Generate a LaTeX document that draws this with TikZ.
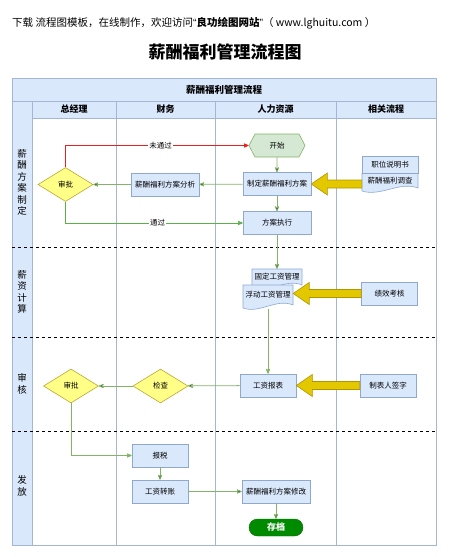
\documentclass[tikz,border=0pt]{standalone}
\usepackage{fontspec}
\setmainfont{Noto Sans CJK SC}
\newfontfamily\latinfont{Liberation Sans}
\usepackage{xcolor}
\usepackage{tikz}
\usetikzlibrary{arrows,arrows.meta,calc,shapes.geometric,shapes.symbols}

\definecolor{boxfill}{HTML}{DAE8FC}
\definecolor{boxline}{HTML}{8FA8D0}
\definecolor{gridline}{HTML}{A3B6D6}
\definecolor{linkgreen}{HTML}{82B366}
\definecolor{okgreen}{HTML}{5CB048}
\definecolor{nogood}{HTML}{E82020}
\definecolor{startfill}{HTML}{D5E8D4}
\definecolor{decfill}{HTML}{FFFF88}
\definecolor{decline}{HTML}{B8A830}
\definecolor{fatfill}{HTML}{E3C800}
\definecolor{fatline}{HTML}{B09500}
\definecolor{savegreen}{HTML}{008A00}

% document page with a wavy foot: centre x, centre y, width, height
\newcommand\docpage[4]{%
  \filldraw[draw=boxline,fill=boxfill,line width=0.6pt]
    (#1-#3/2,#2-#4/2) -- (#1+#3/2,#2-#4/2) -- (#1+#3/2,#2+#4/2)
    .. controls (#1+#3/6,#2+#4/2-7) and (#1-#3/6,#2+#4/2+9) .. (#1-#3/2,#2+#4/2+3) -- cycle;}

% big yellow arrow: from, to
\newcommand\bigarrow[2]{%
  \filldraw[draw=fatline,fill=fatfill,line width=0.6pt] let \p1=(#2), \p2=(#1) in
    (\p1) -- (\x1+16pt,\y1+11pt) -- (\x1+16pt,\y1+4pt) -- (\x2,\y1+4pt)
    -- (\x2,\y1-4pt) -- (\x1+16pt,\y1-4pt) -- (\x1+16pt,\y1-11pt) -- cycle;}

\begin{document}
\begin{tikzpicture}[x=1pt,y=-1pt,>=stealth',
    box text/.style={font=\fontsize{7.5}{9}\selectfont,inner sep=0pt},
    proc node/.style={box text,rectangle,draw=boxline,fill=boxfill,line width=0.6pt,minimum width=56pt,minimum height=23pt},
    wide node/.style={proc node,minimum width=68pt},
    doc node/.style={box text,rectangle,minimum width=50pt,minimum height=16pt},
    dec node/.style={box text,diamond,aspect=1.6,draw=decline,fill=decfill,line width=0.6pt,minimum width=55pt,minimum height=34pt},
    start node/.style={box text,signal,signal to=east and west,signal pointer angle=125,draw=linkgreen,fill=startfill,line width=0.6pt,minimum width=56pt,minimum height=23pt},
    end node/.style={font=\bfseries\fontsize{9}{11}\selectfont,text=white,fill=savegreen,draw=savegreen!80!black,rounded corners=8.5pt,minimum width=54pt,minimum height=17pt,inner sep=0pt},
    head text/.style={font=\bfseries\fontsize{9}{11}\selectfont,inner sep=0pt},
    lane text/.style={font=\fontsize{9.5}{11.5}\selectfont,align=center,inner sep=0pt},
    edge text/.style={font=\fontsize{7.5}{9}\selectfont,text=black,fill=white,inner sep=1pt},
    flow/.style={->,draw=linkgreen,line width=0.8pt}]

  \useasboundingbox (0,0) rectangle (450,557);

  % heading lines
  \node[anchor=west,font=\fontsize{10.5}{12}\selectfont,inner sep=0pt] (note) at (12,23)
    {下载 流程图模板，在线制作，欢迎访问{\latinfont “}\textbf{良功绘图网站}{\latinfont ”}（ www.lghuitu.com ）};
  \node[font=\bfseries\fontsize{17}{20}\selectfont] (title) at (225,52) {薪酬福利管理流程图};

  % swimlane frame
  \filldraw[fill=boxfill,draw=gridline,line width=0.6pt] (12,78) rectangle (436,101);
  \filldraw[fill=boxfill,draw=gridline,line width=0.6pt] (32,101) rectangle (436,118);
  \filldraw[fill=boxfill,draw=gridline,line width=0.6pt] (12,101) rectangle (32,545);
  \draw[gridline,line width=0.6pt] (12,78) rectangle (436,545);
  \foreach \x in {116,215,336}
    \draw[gridline,line width=0.6pt] (\x,101) -- (\x,545);
  \foreach \y in {247,337,431}
    \draw[dashed,line width=0.7pt] (12,\y) -- (436,\y);

  \node[head text,font=\bfseries\fontsize{9.5}{11}\selectfont] (band) at (224,89.5) {薪酬福利管理流程};
  \node[head text] (col1) at (74,109.5) {总经理};
  \node[head text] (col2) at (165.5,109.5) {财务};
  \node[head text] (col3) at (275.5,109.5) {人力资源};
  \node[head text] (col4) at (386,109.5) {相关流程};

  \node[lane text] (lane1) at (22,182.5) {薪\\酬\\方\\案\\制\\定};
  \node[lane text] (lane2) at (22,292) {薪\\资\\计\\算};
  \node[lane text] (lane3) at (22,384) {审\\核};
  \node[lane text] (lane4) at (22,486) {发\\放};

  % lane 1
  \node[start node] (start) at (277,145.5) {开始};
  \node[wide node] (plan) at (277,184) {制定薪酬福利方案};
  \node[wide node] (exec) at (277,223) {方案执行};
  \node[wide node] (ana) at (165,184.5) {薪酬福利方案分析};
  \node[dec node] (audit1) at (65.5,184.5) {审批};
  \docpage{390}{180.5}{56}{15}
  \node[doc node,minimum width=56pt,minimum height=15pt] (survey) at (390,180.5) {薪酬福利调查};
  \node[proc node,minimum height=17pt] (post) at (390,164.5) {职位说明书};

  % lane 2
  \docpage{277}{277}{50}{16}
  \node[doc node] (fix) at (277,277) {固定工资管理};
  \docpage{268}{295}{50}{20}
  \node[doc node,minimum height=20pt] (float) at (268,295) {浮动工资管理};
  \node[proc node] (perf) at (389.5,293.5) {绩效考核};

  % lane 3
  \node[proc node] (report) at (268,385.5) {工资报表};
  \node[proc node] (sign) at (388,385.5) {制表人签字};
  \node[dec node] (check) at (160.5,386) {检查};
  \node[dec node] (audit2) at (71,386) {审批};

  % lane 4
  \node[proc node] (tax) at (160,455.5) {报税};
  \node[proc node] (transfer) at (160,491.5) {工资转账};
  \node[wide node] (revise) at (276,491.5) {薪酬福利方案修改};
  \node[end node] (save) at (276,527.5) {存档};

  % connectors
  \path[flow]
    (start) edge (plan)
    (plan) edge (exec)
    (plan) edge (ana)
    (ana) edge (audit1)
    (exec) edge (fix)
    (report) edge (check)
    (check) edge (audit2)
    (tax) edge (transfer)
    (transfer) edge (revise)
    (revise) edge (save);
  \draw[flow,shorten <=4pt] (float.south) -- (report.north);
  \draw[flow] (audit2.south) |- (tax.west);
  \draw[->,nogood,line width=0.8pt] (audit1.north) |- node[edge text,pos=0.76] {未通过} (start.west);
  \draw[->,okgreen,line width=0.8pt] (audit1.south) |- node[edge text,pos=0.76] {通过} (exec.west);

  \bigarrow{plan.east -| survey.west}{plan.east}
  \bigarrow{perf.west}{perf.west -| float.east}
  \bigarrow{sign.west}{report.east}
\end{tikzpicture}
\end{document}
